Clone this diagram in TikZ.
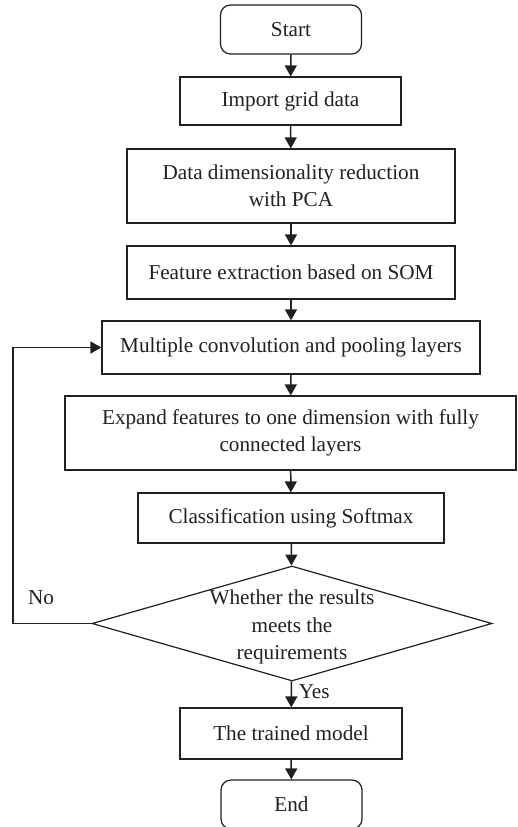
\documentclass[tikz,border=0pt]{standalone}
\usepackage{fontspec}
\setmainfont{Liberation Serif}
\usepackage{tikz}
\usetikzlibrary{shapes.geometric, arrows.meta, positioning}
\definecolor{fcline}{RGB}{35,31,32}

\begin{document}
\begin{tikzpicture}[
  x=0.5pt, y=-0.5pt,
  every node/.style={font=\fontsize{10.6}{13.6}\selectfont, text=fcline},
  term/.style={rectangle, rounded corners=5pt, draw=fcline, line width=0.6pt,
               minimum width=70.5pt, minimum height=24.5pt, align=center},
  proc/.style={rectangle, draw=fcline, line width=0.6pt, inner sep=0pt,
               minimum height=26.5pt, align=center},
  decision/.style={diamond, draw=fcline, line width=0.6pt, inner sep=0pt,
                   minimum width=200pt, minimum height=57.5pt},
  flow/.style={draw=fcline, line width=0.75pt,
               -{Triangle[length=5.5pt, width=6pt]}},
]
\useasboundingbox (0,0) rectangle (518,827);

% ── Main column ──
\node[term] (start) at (291,29.5) {Start};
\node[proc, minimum width=110.5pt, minimum height=24pt] (import) at (290.5,101) {Import grid data};
\node[proc, minimum width=164pt, minimum height=37pt] (pca) at (291,186) {Data dimensionality reduction\\with PCA};
\node[proc, minimum width=164pt] (som) at (291,272.5) {Feature extraction based on SOM};
\node[proc, minimum width=189pt] (conv) at (291,347.5) {Multiple convolution and pooling layers};
\node[proc, minimum width=225.5pt, minimum height=37pt] (dense) at (290.5,433) {Expand features to one dimension with fully\\connected layers};
\node[proc, minimum width=153pt, minimum height=25pt] (softmax) at (291,518) {Classification using Softmax};

% ── Decision ──
\node[decision] (check) at (292,623.5) {};
\node[align=center] (checktxt) at (292,627) {Whether the results\\meets the\\requirements};

\node[proc, minimum width=111pt, minimum height=25.5pt] (model) at (291,733.5) {The trained model};
\node[term] (end) at (291.5,804.5) {End};

\draw[flow] (start) -- (import);
\draw[flow] (import) -- (pca);
\draw[flow] (pca) -- (som);
\draw[flow] (som) -- (conv);
\draw[flow] (conv) -- (dense);
\draw[flow] (dense) -- (softmax);
\draw[flow] (softmax) -- (check);
\draw[flow] (check) -- node[right=0pt, pos=0.4] (yes) {Yes} (model);
\draw[flow] (model) -- (end);

% ── Loop back ──
\coordinate (back) at (13,623.5);
\draw[flow] (check.west) -- (back) |- (conv.west);
\node (no) at (41,598) {No};

\end{tikzpicture}
\end{document}
